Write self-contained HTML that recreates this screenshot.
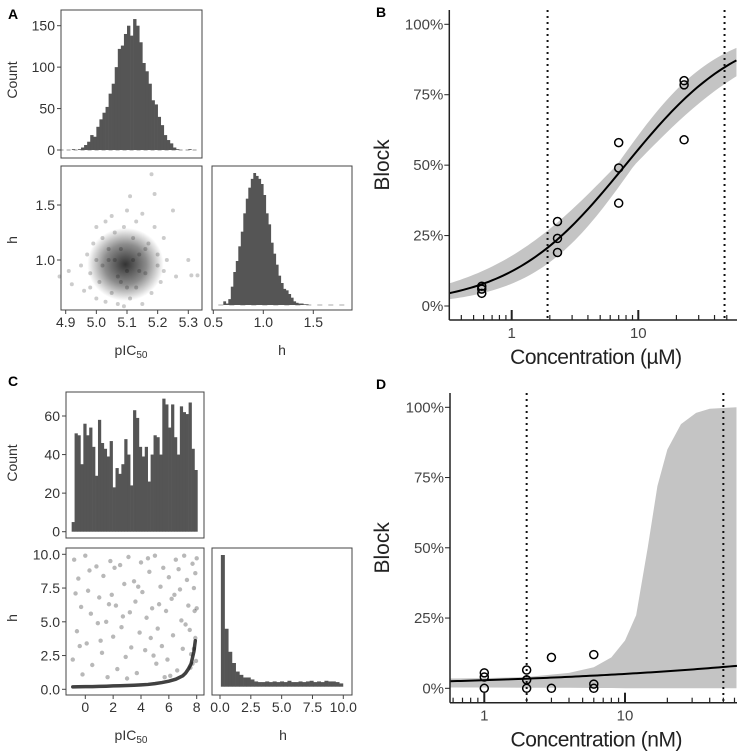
<!DOCTYPE html>
<html><head><meta charset="utf-8"><style>
body{margin:0;background:#fff}
svg{display:block;font-family:"Liberation Sans",sans-serif}
</style></head><body>
<svg id="fig" width="737" height="753" viewBox="0 0 737 753"></svg>
<script>
// ---------- DATA ----------
const histA_pic50_start = 4.88, histA_pic50_width = 0.01;
const histA_pic50_counts = [0,0,0,0,1,0,1,3,6,10,18,16,28,37,45,52,68,80,100,122,126,140,150,138,158,150,130,105,95,80,60,55,40,30,18,12,8,3,1,0,0,0,1,0,0];
const histA_h_start = 0.575, histA_h_width = 0.025;
const histA_h_counts = [0,5,2,8,25,45,60,80,100,125,145,160,172,180,176,172,165,150,125,110,85,70,55,40,30,22,20,15,10,5,3,2,2,1,1];
const scatA_pic50 = [4.88,4.91,4.92,4.95,4.96,4.97,4.98,4.99,5.0,5.0,5.01,5.02,5.03,5.03,5.04,5.05,5.05,5.06,5.07,5.07,5.08,5.09,5.09,5.1,5.1,5.11,5.11,5.12,5.13,5.13,5.14,5.15,5.15,5.16,5.17,5.18,5.18,5.19,5.19,5.2,5.2,5.21,5.22,5.23,5.25,5.26,5.3,5.31,5.33,5.02,5.06,5.08,5.12,5.14,5.04,5.1,5.16,5.0,4.98,5.22];
const scatA_h = [0.85,0.9,0.78,0.95,0.72,1.05,0.88,1.15,0.65,1.3,0.8,1.2,0.62,1.35,1.0,0.7,1.4,1.25,0.6,0.85,1.1,0.58,1.3,0.9,1.45,1.58,0.65,1.2,0.75,1.35,1.05,0.6,1.42,0.88,1.15,1.78,0.7,1.6,1.3,0.95,1.05,0.8,1.2,1.0,1.45,0.85,1.0,0.86,0.86,0.95,1.0,0.8,1.0,0.9,1.1,0.75,1.1,1.0,0.75,0.9];
const scatA_center = [5.095, 0.96];

const histC_pic50_start = -0.98, histC_pic50_width = 0.21;
const histC_pic50_counts = [5,51,50,35,56,50,54,44,29,58,46,43,39,47,23,33,30,35,48,40,24,63,59,44,39,44,26,40,50,49,40,69,66,54,66,49,40,65,62,61,67,43,32];
const histC_h_start = 0.07, histC_h_width = 0.3;
const histC_h_counts = [400,176,106,72,46,36,28,28,22,16,14,14,16,14,16,14,16,14,18,14,14,16,14,16,18,14,16,14,18,16,16,14,10];
const scatC_pic50 = [-0.8,-0.5,-0.3,-0.6,-0.9,-0.2,0,0.2,0.4,0.1,0.5,0.8,1.0,0.9,1.2,1.3,1.5,1.6,1.8,1.9,2.0,2.2,2.3,2.5,2.6,2.8,2.9,3.1,3.2,3.3,3.5,3.6,3.7,3.9,4.0,4.1,4.3,4.4,4.6,4.7,4.8,5.0,5.1,5.2,5.4,5.5,5.6,5.8,5.9,6.0,6.2,6.3,6.5,6.6,6.8,6.9,7.0,7.1,7.3,7.4,7.5,7.6,7.7,7.8,7.85,7.9,7.95,8.0,8.0,7.9,-0.7,0.3,1.1,2.1,3.0,4.5,5.3,6.1,6.7,7.2,-0.4,1.7,2.7,3.8,4.9,5.7,6.4,7.55,7.8,7.7];
const scatC_h = [9.6,8.2,6.1,4.3,2.2,1.1,9.9,7.3,5.6,3.4,1.8,9.1,6.8,4.9,2.7,8.4,5.0,0.9,9.5,7.0,3.9,6.2,1.5,9.2,4.6,7.8,2.4,9.8,5.7,3.1,8.0,6.5,1.2,4.2,9.4,7.2,2.9,5.3,8.7,3.8,6.0,9.9,1.9,4.5,7.6,3.2,9.0,5.8,2.2,8.3,6.7,4.0,9.6,1.4,7.4,5.1,3.0,9.9,8.1,6.2,4.4,2.6,9.3,7.5,5.8,3.8,2.1,9.7,6.0,8.6,7.1,8.8,3.6,9.0,0.8,9.7,6.3,1.0,8.9,4.8,3.2,6.3,5.4,7.6,2.5,0.9,7.0,1.6,3.0,1.9];
const ridgeC_pic50 = [-0.9,-0.5,0,0.5,1,1.5,2,2.5,3,3.5,4,4.5,5,5.5,6,6.5,7,7.2,7.4,7.6,7.8,7.9];
const ridgeC_h = [0.18,0.19,0.2,0.2,0.22,0.23,0.25,0.26,0.28,0.3,0.33,0.36,0.42,0.5,0.6,0.75,1.0,1.2,1.5,1.9,2.8,3.6];

const B_conc = [0.58,0.58,0.58,2.3,2.3,2.3,7,7,7,23,23,23];
const B_block = [7,6,4.5,30,24,19,58,49,36.5,80,78.5,59];
const B_ic50 = 7.9, B_hill = 0.95;
const B_ic50_range = [6.76, 9.3], B_hill_range = [0.8, 1.1];
const B_vlines = [1.92, 48];
const B_xticks = [1, 10];

const D_conc = [1,1,1,2,2,2,3,3,6,6,6];
const D_block = [5.5,4,0,6.5,3,0,11,0,12,1.5,0];
const D_ic50 = 750000, D_hill = 0.26;
const D_band_conc = [0.57,1,2,4,6,8,10,12,14.5,17,20,25,32,40,62];
const D_band_upper = [3.5,3.6,4,5.5,7.5,11,17,26,50,72,85,94,98,99.5,100];
const D_band_lower = [0.3,0.3,0.2,0.2,0.1,0.1,0,0,0,0,0,0,0,0,0];
const D_vlines = [2, 50];
const D_xticks = [1, 10];

// ---------- HELPERS ----------
const NS = "http://www.w3.org/2000/svg";
const svg = document.getElementById('fig');
function mk(tag, attrs, parent){const e=document.createElementNS(NS,tag);for(const k in attrs)e.setAttribute(k,attrs[k]);(parent||svg).appendChild(e);return e;}
function lin(d0,d1,r0,r1){return v=>r0+(v-d0)*(r1-r0)/(d1-d0);}
function txt(x,y,s,size,anchor,name,extra){const t=mk('text',Object.assign({x:x,y:y,'font-size':size,'text-anchor':anchor||'middle',fill:'#333'},extra||{}));t.textContent=s;


return t;}
function box(x0,y0,x1,y1,name){const r=mk('rect',{x:x0,y:y0,width:x1-x0,height:y1-y0,fill:'none',stroke:'#444','stroke-width':1});

}
function hist(g,start,w,counts,xs,base,scale){counts.forEach((c,i)=>{if(c<=0)return;const x0=xs(start+i*w),x1=xs(start+(i+1)*w);const r=mk('rect',{x:x0,y:base-c*scale,width:x1-x0+0.3,height:c*scale,fill:'#555'},g);

});}
function yTicks(vals,ys,xAxis,labels,size){vals.forEach((v,i)=>{mk('line',{x1:xAxis-4,x2:xAxis,y1:ys(v),y2:ys(v),stroke:'#444'});txt(xAxis-6,ys(v)+5,labels[i],size,'end','y-tick-label');});}
function xTicks(vals,xs,yAxis,labels,size){vals.forEach((v,i)=>{mk('line',{x1:xs(v),x2:xs(v),y1:yAxis,y2:yAxis+4,stroke:'#444'});txt(xs(v),yAxis+17,labels[i],size,'middle','x-tick-label');});}

// ---------- PANEL A ----------
txt(8,19,'A',14,'start','panel-label-a',{'font-weight':'bold',fill:'#000'});
const axA = lin(4.9,5.3,65.7,188.3);
const cntA = lin(0,150,150,25.7);
const gA1 = mk('g',{});


mk('line',{x1:axA(4.88),x2:axA(5.33),y1:150,y2:150,stroke:'#999','stroke-dasharray':'4 3'},gA1);
hist(gA1,histA_pic50_start,histA_pic50_width,histA_pic50_counts,axA,150,(150-25.7)/150);
box(61,10,202,158,'histogram-frame-a');
yTicks([0,50,100,150],cntA,61,['0','50','100','150'],14);
txt(0,0,'Count',14,'middle','count-axis-title-a',{transform:'translate(17,80) rotate(-90)'});

const hyA = lin(1.0,1.5,260,205);
const gA2 = mk('g',{});


const defs = mk('defs',{});
const rg = mk('radialGradient',{id:'blobA'},defs);
mk('stop',{offset:'0','stop-color':'#000','stop-opacity':'0.8'},rg);
mk('stop',{offset:'0.55','stop-color':'#000','stop-opacity':'0.45'},rg);
mk('stop',{offset:'1','stop-color':'#000','stop-opacity':'0'},rg);
mk('ellipse',{cx:axA(scatA_center[0]),cy:hyA(scatA_center[1]),rx:axA(5.2)-axA(5.095)+6,ry:hyA(0.7)-hyA(0.96)+8,fill:'url(#blobA)'},gA2);
scatA_pic50.forEach((p,i)=>{const c=mk('circle',{cx:axA(p),cy:hyA(scatA_h[i]),r:2,fill:'#000','fill-opacity':0.2},gA2);

});
box(61,166,202,310,'scatter-frame-a');
yTicks([1.0,1.5],hyA,61,['1.0','1.5'],14);
xTicks([4.9,5.0,5.1,5.2,5.3],axA,310,['4.9','5.0','5.1','5.2','5.3'],14);
txt(0,0,'h',14,'middle','h-axis-title-a',{transform:'translate(17,240) rotate(-90)'});
const pA=txt(131,355,'pIC',14,'middle','pic50-axis-title-a');const sA=mk('tspan',{'font-size':10,dy:3},pA);sA.textContent='50';

const hxA = lin(0.5,1.5,213.3,313.3);
const gA3 = mk('g',{});


mk('line',{x1:hxA(0.55),x2:hxA(1.85),y1:305,y2:305,stroke:'#aaa','stroke-dasharray':'5 6'},gA3);
hist(gA3,histA_h_start,histA_h_width,histA_h_counts,hxA,305,132/180);
box(212,166,352,310,'h-histogram-frame-a');
xTicks([0.5,1.0,1.5],hxA,310,['0.5','1.0','1.5'],14);
txt(282,355,'h',14,'middle','h-x-axis-title-a');

// ---------- PANEL C ----------
txt(8,386,'C',14,'start','panel-label-c',{'font-weight':'bold',fill:'#000'});
const axC = lin(0,8,85.3,196.7);
const cntC = lin(0,60,531.7,416);
const gC1 = mk('g',{});


hist(gC1,histC_pic50_start,histC_pic50_width,histC_pic50_counts,axC,531.7,(531.7-416)/60);
box(66,392,204,538,'histogram-frame-c');
yTicks([0,20,40,60],cntC,66,['0','20','40','60'],14);
txt(0,0,'Count',14,'middle','count-axis-title-c',{transform:'translate(17,463) rotate(-90)'});

const hyC = lin(0,10,689.3,554.3);
const gC2 = mk('g',{});


scatC_pic50.forEach((p,i)=>{const c=mk('circle',{cx:axC(p),cy:hyC(scatC_h[i]),r:2.2,fill:'#000','fill-opacity':0.28},gC2);

});
const ridge = mk('polyline',{points:ridgeC_pic50.map((p,i)=>axC(p)+','+hyC(ridgeC_h[i])).join(' '),fill:'none',stroke:'#111','stroke-width':3.5,'stroke-opacity':0.8,'stroke-linecap':'round'},gC2);


box(66,548,204,695,'scatter-frame-c');
yTicks([0,2.5,5,7.5,10],hyC,66,['0.0','2.5','5.0','7.5','10.0'],14);
xTicks([0,2,4,6,8],axC,695,['0','2','4','6','8'],14);
txt(0,0,'h',14,'middle','h-axis-title-c',{transform:'translate(17,618) rotate(-90)'});
const pC=txt(131,740,'pIC',14,'middle','pic50-axis-title-c');const sC=mk('tspan',{'font-size':10,dy:3},pC);sC.textContent='50';

const hxC = lin(0,10,220,343.3);
const gC3 = mk('g',{});


hist(gC3,histC_h_start,histC_h_width,histC_h_counts,hxC,686.7,131.7/400);
box(212,548,352,695,'h-histogram-frame-c');
xTicks([0,2.5,5,7.5,10],hxC,695,['0.0','2.5','5.0','7.5','10.0'],14);
txt(283,740,'h',14,'middle','h-x-axis-title-c');

// ---------- DOSE RESPONSE ----------
function hillF(x,ic,h){return 100/(1+Math.pow(ic/x,h));}
function dosePanel(o){
  const xs = lin(0,1,o.x1,o.x10);
  const X = c=>xs(Math.log10(c));
  const Y = lin(0,100,o.y0,o.y100);
  const lmin = Math.log10(o.cmin), lmax = Math.log10(o.cmax);
  const N=80, grid=[]; for(let i=0;i<=N;i++) grid.push(Math.pow(10,lmin+(lmax-lmin)*i/N));
  const g = mk('g',{});
  
  
  const band = mk('path',{d:o.bandPath(X,Y,grid),fill:'#c4c4c4',stroke:'none'},g);
  
  
  o.vlines.forEach(v=>{const l=mk('line',{x1:X(v),x2:X(v),y1:o.top,y2:o.axisY,stroke:'#111','stroke-width':2,'stroke-dasharray':'2 4'},g);
    
    });
  const curve = mk('polyline',{points:grid.map(c=>X(c)+','+Y(hillF(c,o.ic50,o.hill))).join(' '),fill:'none',stroke:'#000','stroke-width':2},g);
  
  
  o.conc.forEach((c,i)=>{const p=mk('circle',{cx:X(c),cy:Y(o.block[i]),r:4,fill:'none',stroke:'#000','stroke-width':1.5},g);
    
    });
  mk('line',{x1:o.left,x2:o.left,y1:o.top,y2:o.axisY,stroke:'#222','stroke-width':1.5});
  mk('line',{x1:o.left,x2:737,y1:o.axisY,y2:o.axisY,stroke:'#222','stroke-width':1.5});
  [0,25,50,75,100].forEach(v=>{mk('line',{x1:o.left-5,x2:o.left,y1:Y(v),y2:Y(v),stroke:'#222'});txt(o.left-6,Y(v)+5,v+'%',15,'end','y-tick-label',{fill:'#444'});});
  for(let d=Math.floor(lmin);d<=Math.ceil(lmax);d++){for(let m=1;m<10;m++){const c=m*Math.pow(10,d);if(c<o.cmin||c>o.cmax)continue;const len=m===1?10:5;mk('line',{x1:X(c),x2:X(c),y1:o.axisY,y2:o.axisY-len,stroke:'#222','stroke-width':m===1?2:1.2});}}
  o.xticks.forEach(v=>txt(X(v),o.axisY+18,String(v),15,'middle','x-tick-label',{fill:'#444'}));
  txt((o.left+737)/2+3,o.axisY+44,o.xtitle,21,'middle','x-axis-title',{fill:'#222',textLength:172});
  txt(0,0,'Block',21,'middle','y-axis-title',{fill:'#222',transform:'translate(389,'+((o.top+o.axisY)/2)+') rotate(-90)'});
}
txt(376,17,'B',14,'start','panel-label-b',{'font-weight':'bold',fill:'#000'});
dosePanel({name:'dose-response-b',x1:511.7,x10:638.3,y0:306,y100:24.3,left:449.3,top:10,axisY:320,cmin:0.32,cmax:59.6,
  ic50:B_ic50,hill:B_hill,conc:B_conc,block:B_block,vlines:B_vlines,xticks:B_xticks,xtitle:'Concentration (µM)',
  bandPath:(X,Y,grid)=>{const lo=[],hi=[];grid.forEach(c=>{let mn=100,mx=0;B_ic50_range.forEach(ic=>B_hill_range.forEach(h=>{const v=hillF(c,ic,h);mn=Math.min(mn,v);mx=Math.max(mx,v);}));lo.push(X(c)+','+Y(mn));hi.push(X(c)+','+Y(mx));});return 'M'+lo.join(' L')+' L'+hi.reverse().join(' L')+'Z';}});

txt(376,389,'D',14,'start','panel-label-d',{'font-weight':'bold',fill:'#000'});
dosePanel({name:'dose-response-d',x1:484.3,x10:625,y0:688.3,y100:407.3,left:450,top:393,axisY:702.7,cmin:0.57,cmax:62.5,
  ic50:D_ic50,hill:D_hill,conc:D_conc,block:D_block,vlines:D_vlines,xticks:D_xticks,xtitle:'Concentration (nM)',
  bandPath:(X,Y,grid)=>{const up=D_band_conc.map((c,i)=>X(c)+','+Y(D_band_upper[i]));const lo=D_band_conc.map((c,i)=>X(c)+','+Y(D_band_lower[i]));return 'M'+up.join(' L')+' L'+lo.reverse().join(' L')+'Z';}});
</script>
</body></html>
